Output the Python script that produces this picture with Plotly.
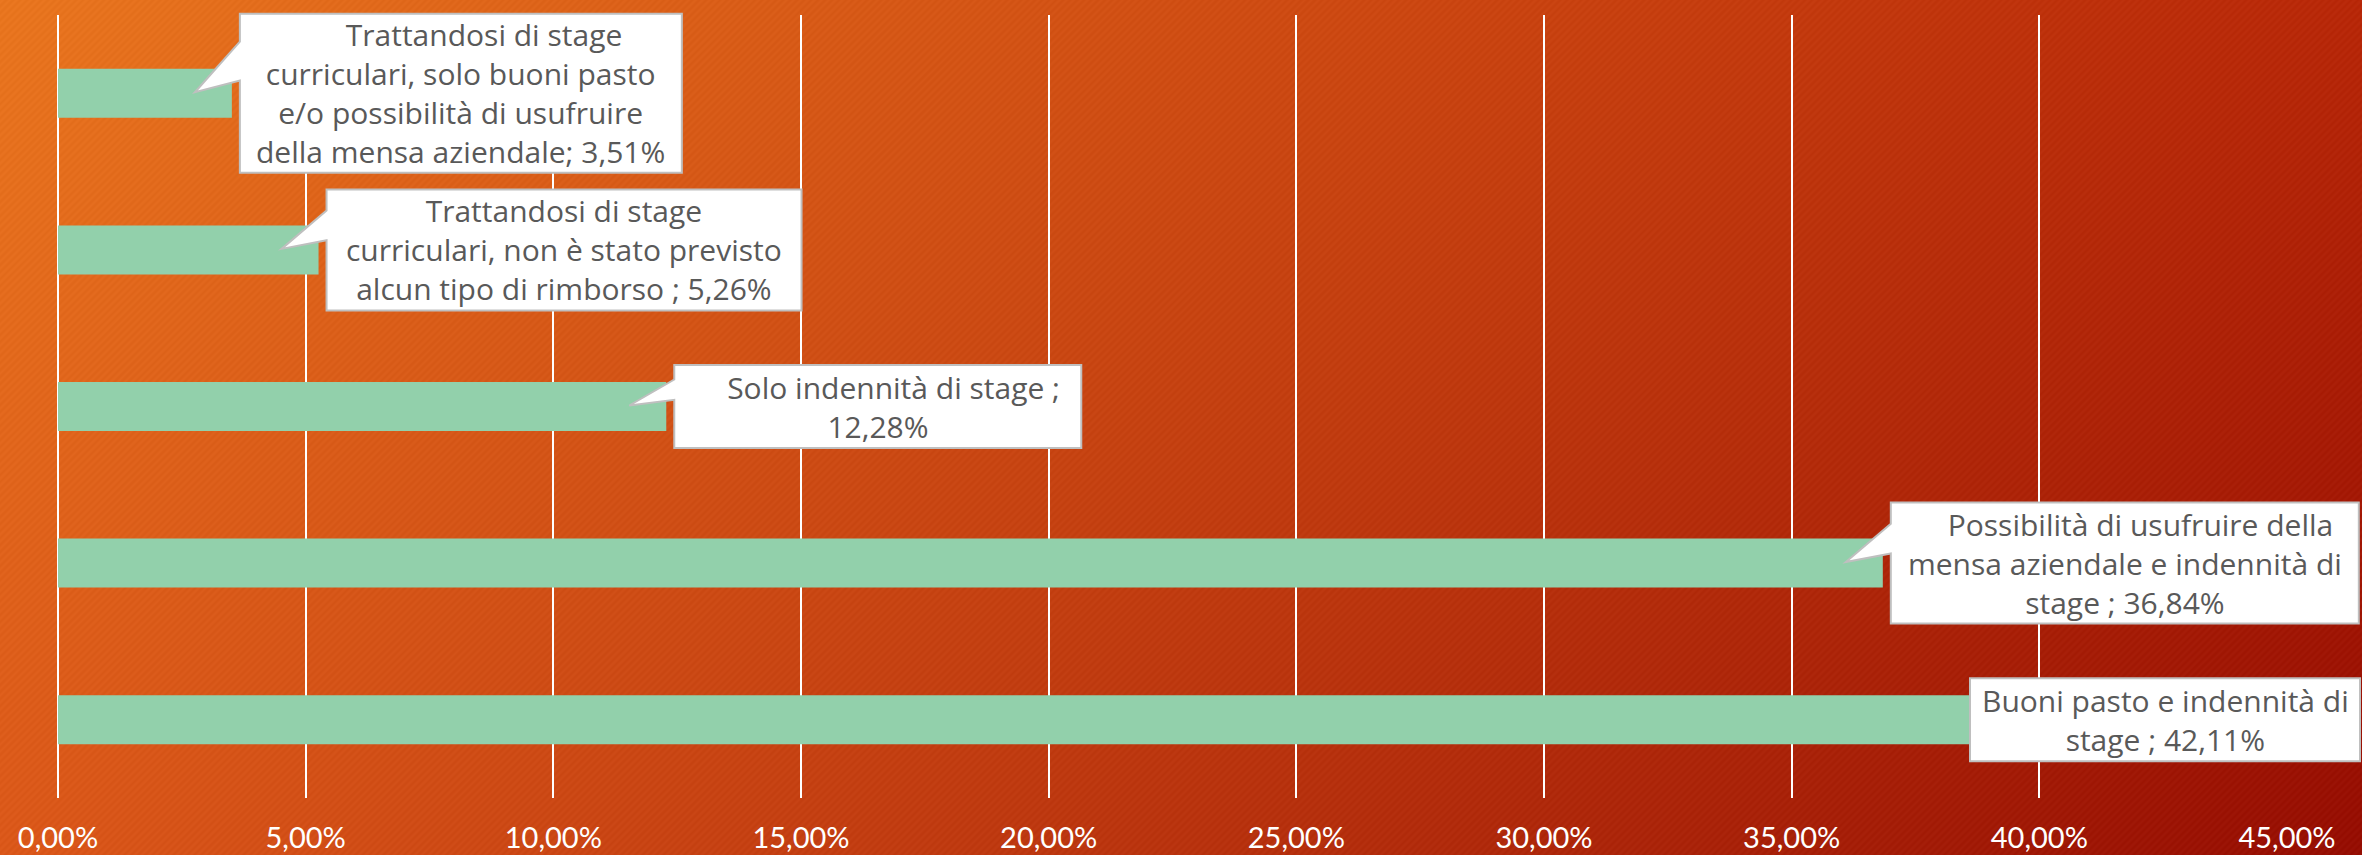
import base64
import struct
import zlib

import numpy as np
import plotly.graph_objects as go

# ---------------- data ----------------
categories = [
    "Trattandosi di stage curriculari, solo buoni pasto e/o possibilità di usufruire della mensa aziendale",
    "Trattandosi di stage curriculari, non è stato previsto alcun tipo di rimborso ",
    "Solo indennità di stage ",
    "Possibilità di usufruire della mensa aziendale e indennità di stage ",
    "Buoni pasto e indennità di stage ",
]
values = [3.51, 5.26, 12.28, 36.84, 42.11]
label_templates = [
    "Trattandosi di stage<br>curriculari, solo buoni pasto<br>e/o possibilità di usufruire<br>della mensa aziendale; {v}",
    "Trattandosi di stage<br>curriculari, non è stato previsto<br>alcun tipo di rimborso ; {v}",
    "Solo indennità di stage ;<br>{v}",
    "Possibilità di usufruire della<br>mensa aziendale e indennità di<br>stage ; {v}",
    "Buoni pasto e indennità di<br>stage ; {v}",
]
tick_values = [0, 5, 10, 15, 20, 25, 30, 35, 40, 45]
tick_labels = ["0,00%", "5,00%", "10,00%", "15,00%", "20,00%", "25,00%",
               "30,00%", "35,00%", "40,00%", "45,00%"]

# ---------------- layout / style ----------------
W, H = 2362, 855
ML, MR, MT, MB = 58, 75, 15, 57
PLOT_W = W - ML - MR
PLOT_H = H - MT - MB
X_MAX = 45
N = len(categories)
LABEL_FONT = "'Open Sans', 'Noto Sans', sans-serif"
TICK_FONT = "Lato, 'Open Sans', sans-serif"
LABEL_SIZE = 30
LINE_PX = 38
BOX_WIDTHS = [442, 475, 407, 468, 390]
FIRST_LINE_INDENT = [6, 0, 4, 4, 0]   # leading spaces of first line (as in the original labels)
BOX_GAP = 8
TIP_DX = -37
BAR_COLOR = "#92D0AB"
TEXT_COLOR = "#595959"
BOX_LINE = "#BFBFBF"


def fmt_pct(v):
    return f"{v:.2f}".replace(".", ",") + "%"


def background_png(w, h):
    tl = np.array([233, 118, 31], dtype=np.float32)
    tr = np.array([184, 40, 9], dtype=np.float32)
    bl = np.array([219, 88, 26], dtype=np.float32)
    br = np.array([150, 14, 3], dtype=np.float32)
    yy, xx = np.mgrid[0:h, 0:w].astype(np.float32)
    u = (xx / (w - 1))[..., None]
    v = (yy / (h - 1))[..., None]
    col = tl * (1 - u) * (1 - v) + tr * u * (1 - v) + bl * (1 - u) * v + br * u * v
    stripe = 2.5 * np.sin(2 * np.pi * (xx + yy) / 7.0)[..., None]
    img = np.clip(col + stripe, 0, 255).astype(np.uint8)
    raw = np.concatenate([np.zeros((h, 1), dtype=np.uint8), img.reshape(h, w * 3)], axis=1).tobytes()

    def chunk(tag, data):
        c = struct.pack(">I", len(data)) + tag + data
        return c + struct.pack(">I", zlib.crc32(tag + data) & 0xFFFFFFFF)

    png = b"\x89PNG\r\n\x1a\n"
    png += chunk(b"IHDR", struct.pack(">IIBBBBB", w, h, 8, 2, 0, 0, 0))
    png += chunk(b"IDAT", zlib.compress(raw, 9))
    png += chunk(b"IEND", b"")
    return "data:image/png;base64," + base64.b64encode(png).decode("ascii")


positions = list(range(N))

fig = go.Figure(
    go.Bar(
        x=values,
        y=positions,
        orientation="h",
        marker=dict(color=BAR_COLOR, line=dict(width=0)),
        hovertext=categories,
        hoverinfo="text+x",
    )
)

shapes = []
annotations = []
for i, (v, tpl, bw, ind) in enumerate(zip(values, label_templates, BOX_WIDTHS, FIRST_LINE_INDENT)):
    n_lines = tpl.count("<br>") + 1
    hh = (n_lines * LINE_PX + 7) / 2.0
    bar_end_px = ML + v / X_MAX * PLOT_W
    off = BOX_GAP
    wedge = True
    if bar_end_px + off + bw > W - 2:
        off = (W - 2) - bw - bar_end_px
        wedge = False
    left, right = off, off + bw
    if wedge:
        wt, wb = 0.65 * hh, 0.16 * hh
        path = (f"M {left},{hh} L {right},{hh} L {right},{-hh} L {left},{-hh} "
                f"L {left},{wb} L {TIP_DX},1 L {left},{wt} Z")
    else:
        path = f"M {left},{hh} L {right},{hh} L {right},{-hh} L {left},{-hh} Z"
    # paper-referenced anchors (x range [0, X_MAX], y reversed [N-0.5, -0.5]) so the
    # callouts are not clipped to the plot area
    shapes.append(dict(
        type="path", xref="paper", yref="paper",
        xsizemode="pixel", ysizemode="pixel",
        xanchor=v / X_MAX, yanchor=((N - 0.5) - i) / N,
        path=path,
        fillcolor="white",
        line=dict(color=BOX_LINE, width=2),
        layer="above",
    ))
    annotations.append(dict(
        x=v, y=i, xref="x", yref="y",
        xshift=off + bw / 2.0, yshift=0,
        xanchor="center", yanchor="middle",
        text="&nbsp;" * ind + tpl.format(v=fmt_pct(v)),
        showarrow=False, align="center",
        font=dict(family=LABEL_FONT, size=LABEL_SIZE, color=TEXT_COLOR),
    ))

fig.update_layout(
    width=W, height=H,
    margin=dict(l=ML, r=MR, t=MT, b=MB, pad=0, autoexpand=False),
    paper_bgcolor="#C8400F",
    plot_bgcolor="rgba(0,0,0,0)",
    showlegend=False,
    bargap=0.687,
    shapes=shapes,
    annotations=annotations,
    images=[dict(
        source=background_png(W, H),
        xref="paper", yref="paper",
        x=-ML / PLOT_W, y=1 + MT / PLOT_H,
        sizex=W / PLOT_W, sizey=H / PLOT_H,
        xanchor="left", yanchor="top",
        sizing="stretch", layer="below",
    )],
    xaxis=dict(
        range=[0, X_MAX],
        tickvals=tick_values, ticktext=tick_labels,
        showgrid=True, gridcolor="white", gridwidth=2,
        zeroline=True, zerolinecolor="white", zerolinewidth=2,
        showline=False, automargin=False,
        ticks="outside", ticklen=14, tickcolor="rgba(0,0,0,0)",
        tickfont=dict(family=TICK_FONT, size=29, color="white"),
        fixedrange=True,
    ),
    yaxis=dict(
        range=[N - 0.5, -0.5],
        showticklabels=False, showgrid=False, zeroline=False, showline=False,
        automargin=False, fixedrange=True,
    ),
)

fig.write_html(
    "out.html",
    config={"displayModeBar": False},
    post_script="document.body.style.margin='0px';document.body.style.overflow='hidden';",
)
